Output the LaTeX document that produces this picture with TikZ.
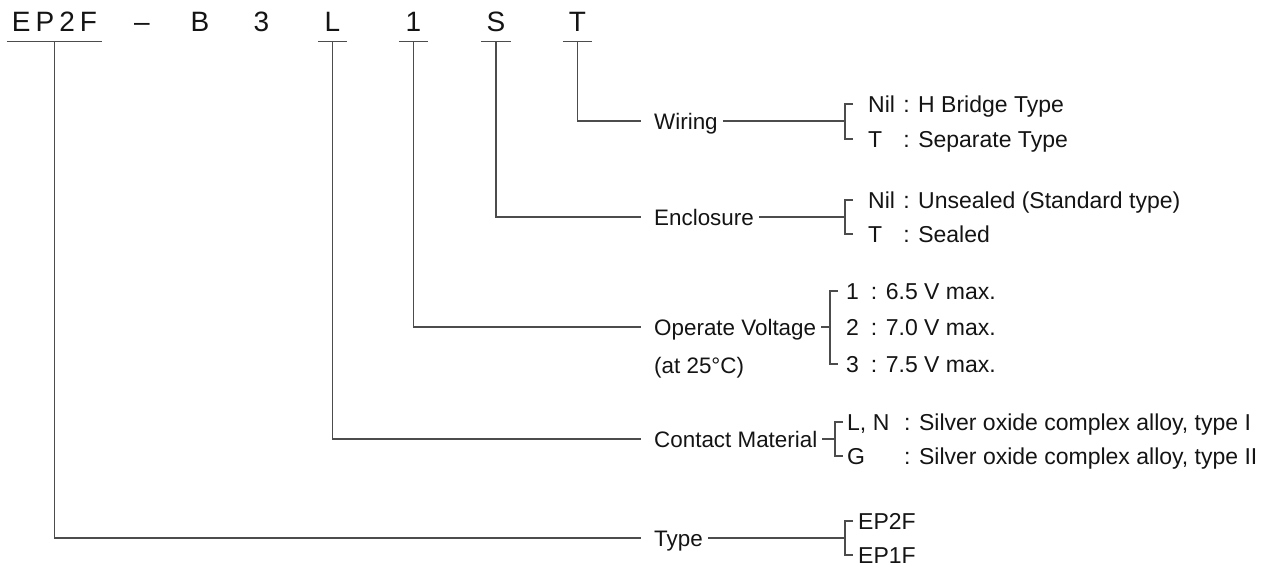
\documentclass[tikz,border=0pt]{standalone}
\usepackage{fontspec}
\setmainfont{Liberation Sans}
\usepackage{xcolor}
\usetikzlibrary{calc, positioning}
\definecolor{rulegrey}{rgb}{0.3, 0.3, 0.3}
\definecolor{inkblack}{rgb}{0.08, 0.08, 0.08}
\newcommand{\keyed}[3]{\makebox[#1][l]{#2} : #3}

\begin{document}
\begin{tikzpicture}[x=1pt, y=-1pt,
        codechar/.style={font=\fontsize{28}{34}\selectfont, text=inkblack, inner sep=0pt, text depth=0pt, anchor=base},
        codekey/.style={codechar, minimum width=29pt},
        field/.style={font=\fontsize{22.4}{27}\selectfont, text=inkblack, anchor=west, inner xsep=5pt, inner ysep=0pt, text height=16.5pt, text depth=0pt},
        choice/.style={field, font=\fontsize{23}{28}\selectfont, inner xsep=0pt},
        wire/.style={draw=rulegrey, line width=1.1pt}]
    \useasboundingbox (0,0) rectangle (1283,569);

    \node (cType) [codekey, minimum width=95pt, font=\fontsize{28}{34}\selectfont\addfontfeature{LetterSpace=18}] at (54.5,32) {EP2F};
    \node (cDash) [codechar] at (142,32) {–};
    \node (cB) [codechar] at (200,32) {B};
    \node (c3) [codechar] at (261.5,32) {3};
    \node (cL) [codekey] at (332.5,32) {L};
    \node (c1) [codekey] at (413.5,32) {1};
    \node (cS) [codekey] at (496,32) {S};
    \node (cT) [codekey] at (577.5,32) {T};

    \draw [wire] ([yshift=-9.3pt]cType.south west) -- ([yshift=-9.3pt]cType.south east);
    \draw [wire] ([yshift=-9.3pt]cL.south west)    -- ([yshift=-9.3pt]cL.south east);
    \draw [wire] ([yshift=-9.3pt]c1.south west)    -- ([yshift=-9.3pt]c1.south east);
    \draw [wire] ([yshift=-9.3pt]cS.south west)    -- ([yshift=-9.3pt]cS.south east);
    \draw [wire] ([yshift=-9.3pt]cT.south west)    -- ([yshift=-9.3pt]cT.south east);

    \node (lWiring) [field] at (649,121) {Wiring};
    \node (lEnclosure) [field] at (649,217) {Enclosure};
    \node (lVoltage) [field] at (649,327) {Operate Voltage};
    \node (lTemp) [field] at (649,365) {(at 25°C)};
    \node (lContact) [field] at (649,439) {Contact Material};
    \node (lType) [field] at (649,538) {Type};

    \node (oW1) [choice] at (868,104) {\keyed{1.25em}{Nil}{H Bridge Type}};
    \node (oW2) [choice] at (868,139) {\keyed{1.25em}{T}{Separate Type}};
    \node (oE1) [choice] at (868,200) {\keyed{1.25em}{Nil}{Unsealed (Standard type)}};
    \node (oE2) [choice] at (868,234) {\keyed{1.25em}{T}{Sealed}};
    \node (oV1) [choice] at (846,291) {\keyed{0.8em}{1}{6.5 V max.}};
    \node (oV2) [choice] at (846,327) {\keyed{0.8em}{2}{7.0 V max.}};
    \node (oV3) [choice] at (846,364) {\keyed{0.8em}{3}{7.5 V max.}};
    \node (oC1) [choice] at (847,422) {\keyed{2.2em}{L, N}{Silver oxide complex alloy, type I}};
    \node (oC2) [choice] at (847,456) {\keyed{2.2em}{G}{Silver oxide complex alloy, type II}};
    \node (oT1) [choice] at (858,521) {EP2F};
    \node (oT2) [choice] at (858,555) {EP1F};

    \coordinate (bW) at (845,121);
    \coordinate (bE) at (845,217);
    \coordinate (bV) at (830,327);
    \coordinate (bC) at (835,439);
    \coordinate (bT) at (845,538);

    \draw [wire] ([yshift=-9.3pt]cT.south)    |- ([xshift=-8pt]lWiring.west);
    \draw [wire] ([yshift=-9.3pt]cS.south)    |- ([xshift=-8pt]lEnclosure.west);
    \draw [wire] ([yshift=-9.3pt]c1.south)    |- ([xshift=-8pt]lVoltage.west);
    \draw [wire] ([yshift=-9.3pt]cL.south)    |- ([xshift=-8pt]lContact.west);
    \draw [wire] ([yshift=-9.3pt]cType.south) |- ([xshift=-8pt]lType.west);

    \draw [wire] (lWiring.east)    -- (bW);
    \draw [wire] (lEnclosure.east) -- (bE);
    \draw [wire] (lVoltage.east)   -- (bV);
    \draw [wire] (lContact.east)   -- (bC);
    \draw [wire] (lType.east)      -- (bT);

    \draw [wire] ($(bW |- oW1.west)+(8,0)$) -- (bW |- oW1.west) -- (bW |- oW2.west) -- ++(8,0);
    \draw [wire] ($(bE |- oE1.west)+(8,0)$) -- (bE |- oE1.west) -- (bE |- oE2.west) -- ++(8,0);
    \draw [wire] ($(bV |- oV1.west)+(8,0)$) -- (bV |- oV1.west) -- (bV |- oV3.west) -- ++(8,0);
    \draw [wire] ($(bC |- oC1.west)+(8,0)$) -- (bC |- oC1.west) -- (bC |- oC2.west) -- ++(8,0);
    \draw [wire] ($(bT |- oT1.west)+(8,0)$) -- (bT |- oT1.west) -- (bT |- oT2.west) -- ++(8,0);
\end{tikzpicture}
\end{document}
